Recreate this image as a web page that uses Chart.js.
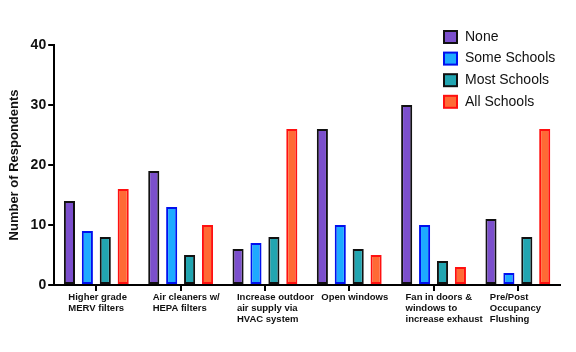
<!DOCTYPE html>
<html>
<head>
<meta charset="utf-8">
<script src="https://cdn.jsdelivr.net/npm/chart.js@4.4.0/dist/chart.umd.min.js"></script>
<style>
  html, body { margin: 0; padding: 0; background: #fff; }
  #wrap { width: 576px; height: 352px; }
</style>
</head>
<body>
<div id="wrap"><canvas id="chart" width="576" height="352"></canvas></div>
<script>
const categories = [
    ['Higher grade', 'MERV filters'],
    ['Air cleaners w/', 'HEPA filters'],
    ['Increase outdoor', 'air supply via', 'HVAC system'],
    ['Open windows'],
    ['Fan in doors &', 'windows to', 'increase exhaust'],
    ['Pre/Post', 'Occupancy', 'Flushing']
];
const seriesNames = ['None', 'Some Schools', 'Most Schools', 'All Schools'];
const noneValues = [14, 19, 6, 26, 30, 11];
const someValues = [9, 13, 7, 10, 10, 2];
const mostValues = [8, 5, 8, 6, 4, 8];
const allValues = [16, 10, 26, 5, 3, 26];
const yTicks = [0, 10, 20, 30, 40];

const fills = ['#7b4fcc', '#1eaaff', '#22a5b1', '#ff6a35'];
const borders = ['#111111', '#0010ee', '#111111', '#ff1010'];

const font = '"Liberation Sans", Arial, sans-serif';

// legend sits inside the plot area, top right
const boxLegend = {
    id: 'boxLegend',
    afterDraw(chart) {
        const ctx = chart.ctx;
        ctx.save();
        ctx.font = '14px ' + font;
        ctx.textBaseline = 'middle';
        chart.data.datasets.forEach((ds, i) => {
            const y = 37 + i * 21.6;
            ctx.fillStyle = ds.backgroundColor;
            ctx.fillRect(444, y - 6, 13, 12);
            ctx.strokeStyle = ds.borderColor;
            ctx.lineWidth = 2;
            ctx.strokeRect(444, y - 6, 13, 12);
            ctx.fillStyle = '#111';
            ctx.fillText(ds.label, 465, y);
        });
        ctx.restore();
    }
};

const valueSets = [noneValues, someValues, mostValues, allValues];

new Chart(document.getElementById('chart'), {
    type: 'bar',
    data: {
        labels: categories,
        datasets: valueSets.map((vals, i) => ({
            label: seriesNames[i],
            data: vals,
            backgroundColor: fills[i],
            borderColor: borders[i],
            borderWidth: 2,
            borderSkipped: false,
            categoryPercentage: 0.85,
            barPercentage: 0.62
        }))
    },
    options: {
        responsive: false,
        animation: false,
        layout: { padding: { top: 45, right: 16, bottom: 26, left: 7 } },
        plugins: {
            legend: { display: false },
            tooltip: { enabled: false }
        },
        scales: {
            x: {
                grid: {
                    display: true,
                    drawOnChartArea: false,
                    drawTicks: true,
                    tickLength: 6,
                    offset: false,
                    color: '#000',
                    lineWidth: 2
                },
                border: { color: '#000', width: 2 },
                ticks: {
                    color: '#111',
                    align: 'start',
                    labelOffset: -28,
                    padding: 1,
                    maxRotation: 0,
                    autoSkip: false,
                    font: { family: font, size: 9.5, weight: 'bold', lineHeight: 1.16 }
                }
            },
            y: {
                min: 0,
                max: 40,
                afterBuildTicks(scale) {
                    scale.ticks = yTicks.map(v => ({ value: v }));
                },
                grid: {
                    display: true,
                    drawOnChartArea: false,
                    drawTicks: true,
                    tickLength: 6,
                    color: '#000',
                    lineWidth: 2
                },
                border: { color: '#000', width: 2 },
                ticks: {
                    color: '#111',
                    padding: 2,
                    font: { family: font, size: 14, weight: 'bold' }
                },
                title: {
                    display: true,
                    text: 'Number of Respondents',
                    color: '#111',
                    padding: { top: 0, bottom: 6 },
                    font: { family: font, size: 13, weight: 'bold' }
                }
            }
        }
    },
    plugins: [boxLegend]
});
</script>
</body>
</html>
